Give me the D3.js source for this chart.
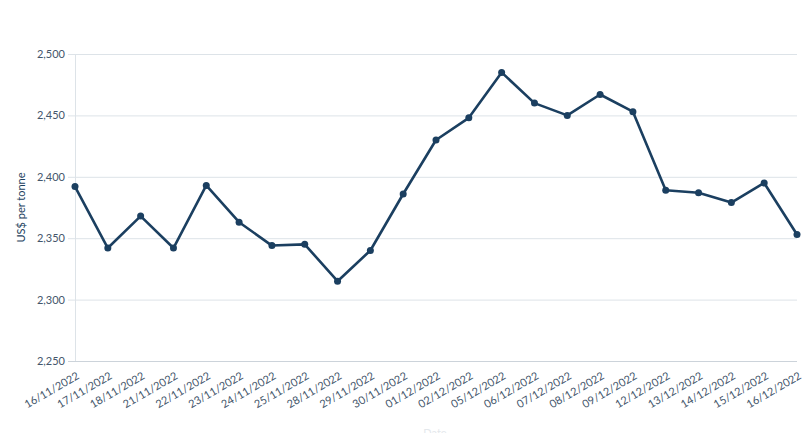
<!DOCTYPE html>
<html>
<head>
<meta charset="utf-8">
<script src="https://cdn.jsdelivr.net/npm/d3@7"></script>
<style>
  body { margin: 0; background: #fff; }
  svg { display: block; font-family: Lato, "Open Sans", sans-serif; }
</style>
</head>
<body>
<svg id="chart"></svg>
<script>
var width = 811; // size of the page
var height = 433;

// Dates shown on the x axis
var dates = ["16/11/2022", "17/11/2022", "18/11/2022", "21/11/2022", "22/11/2022",
    "23/11/2022", "24/11/2022", "25/11/2022", "28/11/2022", "29/11/2022", "30/11/2022",
    "01/12/2022", "02/12/2022", "05/12/2022", "06/12/2022", "07/12/2022", "08/12/2022",
    "09/12/2022", "12/12/2022", "13/12/2022", "14/12/2022", "15/12/2022", "16/12/2022"];

// Price in US$ per tonne
var prices = [2392, 2342, 2368, 2342, 2393, 2363, 2344, 2345, 2315, 2340, 2386,
    2430, 2448, 2485, 2460, 2450, 2467, 2453, 2389, 2387, 2379, 2395, 2353];

// Y axis ticks
var yTicks = [2250, 2300, 2350, 2400, 2450, 2500];

var margin = { top: 54, right: 14, bottom: 72, left: 75 };

var svg = d3.select("#chart")
    .attr("width", width)
    .attr("height", height);

var x = d3.scalePoint()
    .domain(dates)
    .range([margin.left, width - margin.right]);

var y = d3.scaleLinear()
    .domain([2250, 2500])
    .range([height - margin.bottom, margin.top]);

var fmt = d3.format(",");

// Grid lines
svg.append("g")
    .selectAll("line")
    .data(yTicks)
    .enter().append("line")
    .attr("x1", margin.left - 7)
    .attr("x2", width - margin.right)
    .attr("y1", function(d) { return y(d) + 0.5; })
    .attr("y2", function(d) { return y(d) + 0.5; })
    .style("stroke", function(d) { return d == 2250 ? "#ccd3da" : "#dde3e8"; })
    .style("stroke-width", 1);

// Y axis line
svg.append("line")
    .attr("x1", margin.left + 0.5)
    .attr("x2", margin.left + 0.5)
    .attr("y1", margin.top)
    .attr("y2", height - margin.bottom)
    .style("stroke", "#dde3e8");

// Y labels
svg.append("g")
    .selectAll("text")
    .data(yTicks)
    .enter().append("text")
    .attr("x", margin.left - 10)
    .attr("y", function(d) { return y(d) + 4; })
    .attr("text-anchor", "end")
    .style("font-size", "11px")
    .style("fill", "#44566b")
    .text(function(d) { return fmt(d); });

// Y title
svg.append("text")
    .attr("transform", "translate(25," + ((margin.top + height - margin.bottom) / 2) + ") rotate(-90)")
    .attr("text-anchor", "middle")
    .style("font-size", "11px")
    .style("fill", "#1d3f5e")
    .text("US$ per tonne");

// X labels
svg.append("g")
    .selectAll("text")
    .data(dates)
    .enter().append("text")
    .attr("transform", function(d) { return "translate(" + (x(d) + 5) + "," + (height - margin.bottom + 17) + ") rotate(-30)"; })
    .attr("text-anchor", "end")
    .style("font-size", "11px")
    .style("fill", "#44566b")
    .text(function(d) { return d; });

// X title (faint)
svg.append("text")
    .attr("x", 435)
    .attr("y", 437)
    .attr("text-anchor", "middle")
    .style("font-size", "11px")
    .style("fill", "#e4e8ec")
    .text("Date");

// Price line
var line = d3.line()
    .x(function(d, i) { return x(dates[i]); })
    .y(function(d) { return y(d); });

svg.append("path")
    .datum(prices)
    .attr("d", line)
    .style("fill", "none")
    .style("stroke", "#1b3f60")
    .style("stroke-width", 2.6)
    .style("stroke-linejoin", "round");

svg.selectAll("circle")
    .data(prices)
    .enter().append("circle")
    .attr("r", 3.5)
    .attr("cx", function(d, i) { return x(dates[i]); })
    .attr("cy", function(d) { return y(d); })
    .attr("fill", "#1b3f60");
</script>
</body>
</html>
